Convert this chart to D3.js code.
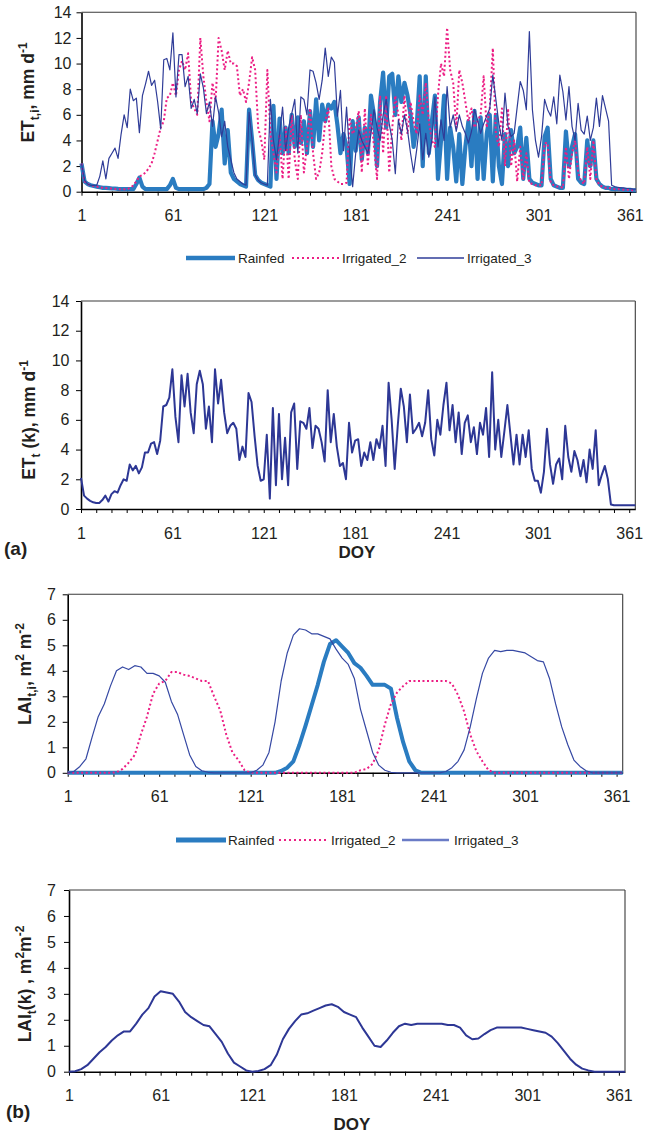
<!DOCTYPE html>
<html><head><meta charset="utf-8">
<script src="https://cdn.jsdelivr.net/npm/d3@7"></script>
<style>body{margin:0;background:#fff}</style>
</head><body>
<svg id="c" width="655" height="1133"></svg>
<script>
// ---------------- DATA ----------------
const xTickVals = d3.range(1, 362, 10);
const xLabelVals = [1, 61, 121, 181, 241, 301, 361];
const etTicks = [0, 2, 4, 6, 8, 10, 12, 14];
const laiTicks = [0, 1, 2, 3, 4, 5, 6, 7];
const seriesNames = ["Rainfed", "Irrigated_2", "Irrigated_3"];

// ET sampled on DOY 1,3,5,...,365
const etDays = d3.range(1, 366, 2);
const etRainfed = [
 2.2,0.8,0.6,0.5,0.45,0.4,0.35,0.3,0.3,0.28,
 0.25,0.25,0.22,0.2,0.2,0.2,0.2,0.2,0.6,1.1,
 0.4,0.2,0.2,0.2,0.2,0.2,0.2,0.2,0.2,0.5,
 1.0,0.3,0.2,0.2,0.2,0.2,0.2,0.2,0.2,0.2,
 0.2,0.3,0.6,5.5,3.5,4.5,6.4,2.2,4.8,1.5,
 1.0,0.8,0.6,0.5,0.4,6.4,4.0,1.3,0.9,0.7,
 0.6,0.5,0.4,6.7,1.0,5.7,3.0,5.0,3.0,6.0,
 3.5,5.8,3.8,5.5,3.0,6.3,3.5,7.2,4.0,6.8,
 5.5,6.8,6.5,7.0,5.2,3.0,4.5,3.5,0.6,5.5,
 3.2,5.8,2.5,5.0,3.0,7.5,6.0,2.0,7.0,9.3,
 5.0,9.0,9.2,6.0,9.0,7.0,8.5,7.5,6.0,3.5,
 5.0,9.0,2.0,9.0,3.0,5.5,7.5,1.0,4.0,7.5,
 1.0,5.0,3.5,0.8,4.5,0.6,3.5,5.5,2.0,6.3,
 1.0,5.8,1.0,4.5,6.0,0.8,6.0,2.0,0.6,4.5,
 2.0,4.8,3.0,3.5,5.0,1.0,4.2,1.0,0.7,0.6,
 0.5,0.5,4.3,5.0,1.0,0.5,0.4,0.3,0.3,4.7,
 2.0,3.5,4.5,1.0,0.7,0.6,4.0,2.0,4.0,1.0,
 0.6,0.4,0.3,0.3,0.2,0.2,0.2,0.2,0.15,0.15,
 0.15,0.1,0.1
];
const etIrrigated2 = [
 2.2,0.8,0.6,0.5,0.45,0.4,0.35,0.3,0.28,0.25,
 0.25,0.22,0.2,0.2,0.2,0.2,0.3,0.5,0.8,1.2,
 1.3,1.5,1.8,2.2,3.0,4.0,5.0,5.5,7.3,7.5,
 8.5,7.5,9.5,10.2,9.5,10.8,7.0,6.5,6.0,12.0,
 9.0,7.0,5.5,8.5,7.0,12.0,11.0,9.5,11.0,10.0,
 10.0,9.8,7.5,8.0,7.0,8.5,10.5,9.5,5.0,4.0,
 2.5,9.5,4.5,3.0,1.5,4.5,1.0,5.0,1.0,6.0,
 2.5,1.0,6.0,1.5,3.5,6.5,3.0,1.0,1.5,3.0,
 5.5,6.5,2.0,1.0,0.8,0.6,0.6,0.7,5.8,4.5,
 5.0,6.3,1.5,6.5,2.0,6.0,3.5,1.0,7.5,3.0,
 7.5,1.5,5.0,7.5,6.0,4.0,7.5,4.5,7.0,5.5,
 4.5,7.5,6.0,8.5,5.5,4.0,3.5,7.5,10.0,9.0,
 12.8,9.5,8.5,5.0,9.5,8.5,7.0,5.5,6.5,5.0,
 5.5,6.0,9.0,5.0,6.5,11.2,4.5,3.5,6.5,2.0,
 6.5,2.0,4.0,0.8,3.5,1.0,3.0,0.7,0.6,0.5,
 0.5,0.5,3.8,3.8,0.7,0.5,0.4,0.4,0.3,3.5,
 1.0,3.0,4.0,1.5,0.8,0.6,3.5,1.0,4.0,1.0,
 0.5,0.4,0.3,0.3,0.25,0.2,0.2,0.2,0.15,0.15,
 0.15,0.1,0.1
];
const etIrrigated3 = [
 2.2,0.9,0.6,0.5,0.5,0.5,1.2,2.4,1.0,2.6,
 3.0,3.4,2.6,4.5,6.0,5.0,8.0,7.1,7.3,4.6,
 7.5,8.4,9.4,8.3,8.7,7.0,4.9,10.3,10.4,9.5,
 12.4,7.4,10.7,10.7,8.2,9.0,6.5,7.2,6.1,9.2,
 8.1,6.1,7.0,5.1,7.4,6.2,4.3,5.5,3.5,2.5,
 1.5,1.0,0.8,0.6,0.5,6.2,4.0,1.3,0.9,0.7,
 0.6,0.5,7.2,4.0,2.5,4.5,6.6,3.2,5.0,6.1,
 7.2,3.0,7.4,7.2,6.0,9.5,9.4,8.5,7.2,8.7,
 11.2,9.0,10.5,10.1,5.9,7.9,3.2,6.6,3.0,0.4,
 3.0,4.8,4.0,3.5,3.0,4.5,6.4,5.0,4.0,6.0,
 7.2,5.3,4.0,1.4,5.6,4.5,6.0,4.8,3.0,1.5,
 3.25,5.3,2.5,4.55,2.7,4.0,7.4,3.5,5.6,4.0,
 8.2,5.0,6.0,4.7,6.0,5.1,4.55,3.8,4.7,6.4,
 5.6,4.55,5.3,5.9,6.5,9.1,7.2,5.3,4.0,7.7,
 5.1,4.3,4.55,6.6,8.6,7.9,6.4,12.5,6.4,4.0,
 2.7,4.3,7.2,6.4,5.9,7.4,5.3,9.1,7.8,5.6,
 8.2,5.1,4.0,6.9,4.8,4.5,5.9,4.0,5.0,7.3,
 5.1,7.5,6.5,5.5,0.5,0.4,0.35,0.3,0.3,0.25,
 0.25,0.2,0.2
];
const etK = [
 2.1,0.9,0.7,0.55,0.45,0.4,0.4,0.6,0.9,0.5,
 1.0,1.2,1.1,1.6,2.0,1.9,3.0,2.6,2.9,2.4,
 2.8,3.8,3.8,4.4,4.5,3.7,4.6,6.9,7.0,7.5,
 9.4,6.2,4.5,9.0,6.9,9.1,6.5,5.1,8.4,9.3,
 8.4,5.4,6.9,4.5,9.4,7.1,8.7,6.5,5.1,5.6,
 5.8,5.4,3.3,4.2,3.5,7.8,7.2,4.9,2.9,1.9,
 2.0,5.0,0.7,6.8,1.6,6.4,2.0,4.8,1.6,6.5,
 7.1,2.7,5.9,5.8,5.4,6.8,4.1,5.6,5.4,4.5,
 3.2,8.0,4.5,6.4,4.2,2.9,3.1,2.0,5.8,3.8,
 4.6,4.7,2.9,3.8,3.3,4.5,3.3,4.7,4.1,5.6,
 2.9,8.5,6.0,2.7,5.6,8.1,6.9,4.5,7.7,5.1,
 5.4,5.8,4.9,5.8,8.0,4.7,3.6,6.0,5.0,7.0,
 8.5,5.3,7.0,4.5,6.5,3.7,5.8,6.3,4.5,5.5,
 3.7,5.8,5.0,6.8,3.5,9.2,4.0,6.0,3.5,5.2,
 7.0,5.0,3.0,5.0,3.0,5.0,3.5,5.3,2.7,1.9,
 1.9,1.1,2.5,5.4,3.0,1.7,3.0,3.4,2.0,5.6,
 3.5,2.5,3.9,3.3,2.2,3.3,1.8,4.0,2.7,5.3,
 1.6,2.3,2.9,2.0,0.3,0.25,0.25,0.25,0.25,0.25,
 0.25,0.25,0.25
];

// LAI sampled on DOY 1,5,9,...,365
const laiDays = d3.range(1, 366, 4);
const laiRainfed = [
 0,0,0,0,0,0,0,0,0,0,
 0,0,0,0,0,0,0,0,0,0,
 0,0,0,0,0,0,0,0,0,0,
 0,0,0,0,0,0.07,0.2,0.45,1.1,1.85,
 2.65,3.45,4.35,5.05,5.2,4.95,4.7,4.3,4.12,3.8,
 3.45,3.45,3.45,3.3,2.15,1.2,0.45,0.1,0,0,
 0,0,0,0,0,0,0,0,0,0,
 0,0,0,0,0,0,0,0,0,0,
 0,0,0,0,0,0,0,0,0,0,
 0,0
];
const laiIrrigated2 = [
 0,0,0,0,0,0,0,0,0.02,0.15,
 0.4,0.7,1.5,2.2,3.1,3.5,3.6,3.95,3.95,3.85,
 3.8,3.7,3.6,3.6,3.0,2.45,1.5,0.8,0.5,0.1,
 0,0,0,0,0,0,0,0,0,0,
 0,0,0,0,0,0,0,0,0.1,0.15,
 0.35,0.9,1.9,2.7,3.15,3.4,3.6,3.6,3.6,3.6,
 3.6,3.6,3.6,3.5,3.05,2.4,1.5,0.85,0.45,0.1,
 0,0,0,0,0,0,0,0,0,0,
 0,0,0,0,0,0,0,0,0,0,
 0,0
];
const laiIrrigated3 = [
 0,0.05,0.25,0.55,1.4,2.2,2.7,3.4,4.0,4.15,
 4.05,4.2,4.15,3.9,3.9,3.8,3.55,2.8,2.3,1.5,
 0.7,0.25,0.08,0.02,0,0,0,0,0,0,
 0,0.1,0.3,0.8,2.0,3.6,4.7,5.4,5.65,5.6,
 5.45,5.45,5.35,5.25,4.85,4.5,4.25,3.7,2.5,1.65,
 0.8,0.3,0.1,0.02,0,0,0,0,0,0,
 0,0,0.05,0.2,0.45,0.9,1.8,2.9,3.9,4.5,
 4.8,4.75,4.8,4.8,4.75,4.7,4.55,4.4,4.35,3.7,
 2.7,1.8,1.1,0.5,0.25,0.08,0,0,0,0,
 0,0
];
const laiK = [
 0,0.02,0.1,0.25,0.5,0.75,0.95,1.2,1.4,1.55,
 1.55,1.85,2.2,2.45,2.9,3.1,3.05,3.0,2.7,2.3,
 2.1,1.95,1.8,1.75,1.45,1.15,0.7,0.35,0.2,0.05,
 0,0.03,0.1,0.25,0.65,1.25,1.65,1.95,2.2,2.25,
 2.35,2.45,2.55,2.6,2.5,2.3,2.2,2.1,1.7,1.35,
 1.0,0.95,1.2,1.5,1.75,1.85,1.8,1.85,1.85,1.85,
 1.85,1.85,1.8,1.8,1.7,1.4,1.25,1.28,1.45,1.6,
 1.7,1.7,1.7,1.7,1.7,1.65,1.6,1.55,1.5,1.35,
 1.1,0.8,0.5,0.27,0.12,0.05,0,0,0,0,
 0,0
];

// ---------------- STYLE ----------------
const FONT = "'Liberation Sans', Arial, sans-serif";
const C_RAIN = "#2a7cc1", C_IRR2 = "#ec1e84", C_IRR3 = "#2f3c98", C_K = "#2d3795";
const svg = d3.select("#c");

function drawPanel(o) {
  const x = d3.scaleLinear().domain([1, 365]).range([o.left, o.right]);
  const y = d3.scaleLinear().domain([0, o.ymax]).range([o.bottom, o.top]);
  const g = svg.append("g");
  g.append("line").attr("x1", o.left).attr("x2", o.right).attr("y1", o.top).attr("y2", o.top)
    .attr("stroke", "#3a3a3a").attr("stroke-width", 1.1);
  g.append("line").attr("x1", o.right).attr("x2", o.right).attr("y1", o.top).attr("y2", o.bottom)
    .attr("stroke", "#3a3a3a").attr("stroke-width", 1.1);
  const xa = g.append("g").attr("transform", `translate(0,${o.bottom})`)
    .call(d3.axisBottom(x).tickValues(xTickVals).tickSize(4).tickSizeOuter(0).tickPadding(o.xpad)
      .tickFormat(d => xLabelVals.includes(d) ? d : ""));
  const ya = g.append("g").attr("transform", `translate(${o.left},0)`)
    .call(d3.axisLeft(y).tickValues(o.yticks).tickSize(5).tickSizeOuter(0).tickPadding(o.ypad)
      .tickFormat(d3.format("d")));
  [xa, ya].forEach(a => {
    a.selectAll("text").attr("font-size", 16).attr("font-family", FONT).attr("fill", "#231f20");
    a.select(".domain").attr("stroke", "#000").attr("stroke-width", 1.6);
    a.selectAll(".tick line").attr("stroke", "#000").attr("stroke-width", 1);
  });
  o.series.forEach(s => {
    const line = d3.line().x((d, i) => x(s.days[i])).y(d => y(d));
    g.append("path").datum(s.values).attr("d", line).attr("fill", "none")
      .attr("stroke", s.color).attr("stroke-width", s.width)
      .attr("stroke-dasharray", s.dash || null).attr("stroke-linejoin", "round");
  });
}

function yTitle(tx, ty, parts) {
  const t = svg.append("text").attr("transform", `translate(${tx},${ty}) rotate(-90)`)
    .attr("text-anchor", "middle").attr("font-family", FONT).attr("font-weight", "bold")
    .attr("font-size", 17.5).attr("fill", "#231f20");
  let shift = 0;
  parts.forEach(([txt, kind]) => {
    let target = kind === "sub" ? 5 : kind === "sup" ? -7 : 0;
    t.append("tspan").attr("dy", target - shift).attr("font-size", kind === "n" ? 17.5 : 12).text(txt);
    shift = target;
  });
}

function legend(yy, items) {
  items.forEach(it => {
    svg.append("line").attr("x1", it.x1).attr("x2", it.x2).attr("y1", yy).attr("y2", yy)
      .attr("stroke", it.color).attr("stroke-width", it.width).attr("stroke-dasharray", it.dash || null);
    svg.append("text").attr("x", it.tx).attr("y", yy + 4.5).attr("font-family", FONT)
      .attr("font-size", 13.5).attr("fill", "#231f20").text(it.name);
  });
}

function plainText(x, y, txt, size, anchor) {
  svg.append("text").attr("x", x).attr("y", y).attr("font-family", FONT).attr("font-weight", "bold")
    .attr("font-size", size).attr("text-anchor", anchor).attr("fill", "#231f20").text(txt);
}

// Panel 1: ET per crop
drawPanel({left: 81.5, right: 636, top: 12.3, bottom: 191.7, ymax: 14, yticks: etTicks, xpad: 13.6, ypad: 5,
  series: [
    {days: etDays, values: etRainfed, color: C_RAIN, width: 4.2},
    {days: etDays, values: etIrrigated2, color: C_IRR2, width: 2, dash: "2,2.5"},
    {days: etDays, values: etIrrigated3, color: C_IRR3, width: 1.2}
  ]});
yTitle(33.5, 92.5, [["ET","n"],["t,i","sub"],[", mm d","n"],["-1","sup"]]);
legend(258, [
  {x1: 186, x2: 235, tx: 238, color: C_RAIN, width: 4.5, name: seriesNames[0]},
  {x1: 292, x2: 339, tx: 342, color: C_IRR2, width: 2, dash: "2,3", name: seriesNames[1]},
  {x1: 417, x2: 464, tx: 467, color: C_IRR3, width: 1.5, name: seriesNames[2]}
]);

// Panel 2: ET(k)
drawPanel({left: 81, right: 635.3, top: 301, bottom: 509, ymax: 14, yticks: etTicks, xpad: 15, ypad: 6.5,
  series: [{days: etDays, values: etK, color: C_K, width: 2}]});
yTitle(35, 420, [["ET","n"],["t","sub"],[" (k), mm d","n"],["-1","sup"]]);
plainText(357, 558, "DOY", 17, "middle");
plainText(4, 555, "(a)", 19, "start");

// Panel 3: LAI per crop
drawPanel({left: 67.7, right: 622.7, top: 594.3, bottom: 772.8, ymax: 7, yticks: laiTicks, xpad: 14.3, ypad: 6.7,
  series: [
    {days: laiDays, values: laiRainfed, color: C_RAIN, width: 4},
    {days: laiDays, values: laiIrrigated2, color: C_IRR2, width: 2, dash: "2,2.5"},
    {days: laiDays, values: laiIrrigated3, color: "#3548a3", width: 1.2}
  ]});
yTitle(31, 674, [["LAI","n"],["t,i","sub"],[", m","n"],["2","sup"],[" m","n"],["-2","sup"]]);
legend(840, [
  {x1: 176, x2: 226, tx: 228, color: C_RAIN, width: 5, name: seriesNames[0]},
  {x1: 279, x2: 327, tx: 331, color: C_IRR2, width: 2, dash: "2,3", name: seriesNames[1]},
  {x1: 402, x2: 449, tx: 454, color: "#6a7bc6", width: 2.5, name: seriesNames[2]}
]);

// Panel 4: LAI(k)
drawPanel({left: 69, right: 625, top: 890, bottom: 1071.7, ymax: 7, yticks: laiTicks, xpad: 13.8, ypad: 8,
  series: [{days: laiDays, values: laiK, color: C_K, width: 2}]});
yTitle(31, 984, [["LAI","n"],["t","sub"],["(k) , m","n"],["2","sup"],["m","n"],["-2","sup"]]);
plainText(352, 1129.5, "DOY", 17, "middle");
plainText(6, 1118, "(b)", 19, "start");
</script>
</body></html>
